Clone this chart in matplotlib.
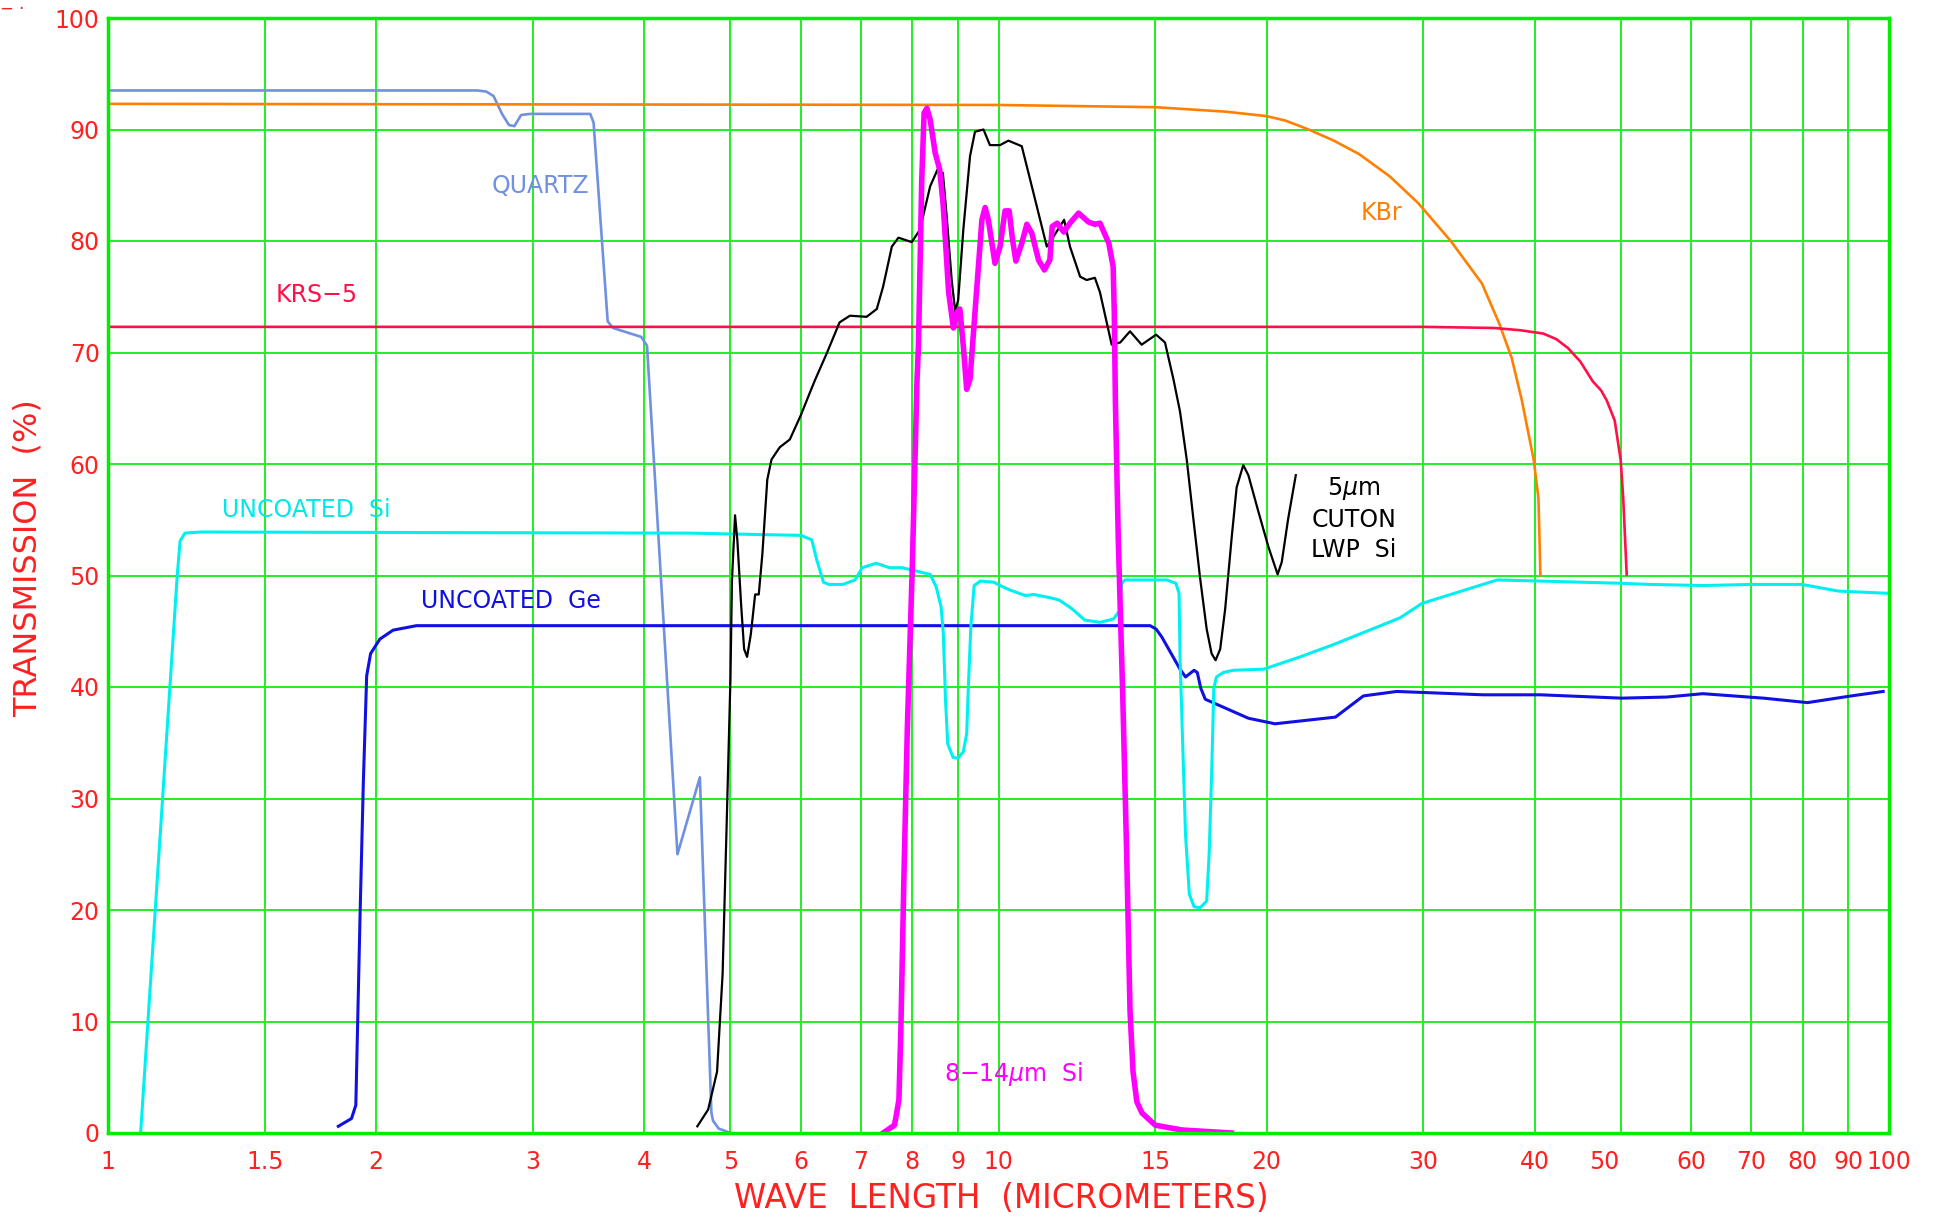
import numpy as np
from matplotlib import pyplot as plt
from matplotlib.ticker import NullLocator
from matplotlib.transforms import ScaledTranslation

# wavelength (micrometers) / transmission (%)
quartz_wl = [1.0, 2.60, 2.66, 2.71, 2.77, 2.82, 2.86, 2.91, 2.98, 3.48, 3.51, 3.64, 3.69, 3.97, 4.03,
             4.36, 4.62, 4.76, 4.78, 4.85, 5.0]
quartz_t = [93.5, 93.5, 93.4, 93.0, 91.4, 90.4, 90.3, 91.3, 91.4, 91.4, 90.6, 72.8, 72.2, 71.4, 70.6,
            25.0, 31.9, 1.8, 1.1, 0.4, 0.0]

kbr_wl = [1.0, 10.0, 15.0, 18.0, 20.0, 21.0, 22.3, 23.8, 25.4, 27.5, 29.6, 32.2, 34.9, 36.5, 37.7,
          38.7, 39.9, 40.4, 40.6]
kbr_t = [92.3, 92.2, 92.0, 91.6, 91.2, 90.8, 90.0, 89.0, 87.8, 85.8, 83.4, 80.0, 76.2, 72.6, 69.5,
         65.7, 60.4, 56.9, 50.0]

krs5_wl = [1.0, 30.0, 36.0, 38.5, 40.9, 42.3, 43.6, 45.0, 46.5, 47.5, 48.2, 49.2, 49.96, 50.3, 50.75]
krs5_t = [72.3, 72.3, 72.2, 72.0, 71.7, 71.2, 70.4, 69.2, 67.4, 66.6, 65.7, 63.9, 60.4, 56.9, 50.1]

si_wl = [1.088, 1.196, 1.205, 1.22, 1.27, 4.5, 6.0, 6.17, 6.25, 6.36, 6.45, 6.69, 6.90, 7.03, 7.29,
         7.54, 7.80, 8.03, 8.38, 8.51, 8.62, 8.67, 8.72, 8.77, 8.89, 9.0, 9.13, 9.21, 9.25, 9.31,
         9.39, 9.54, 9.88, 10.04, 10.30, 10.72, 10.95, 11.44, 11.7, 12.1, 12.5, 13.0, 13.46, 13.67,
         13.75, 13.87, 15.45, 15.82, 15.95, 15.99, 16.09, 16.22, 16.38, 16.58, 16.84, 17.13, 17.24,
         17.35, 17.45, 17.57, 17.88, 18.35, 19.85, 21.81, 23.77, 25.91, 28.24, 29.9, 36.3, 40.6,
         50.1, 53.9, 61.8, 70.2, 79.8, 87.8, 100.0]
si_t = [0.0, 50.0, 53.1, 53.8, 53.9, 53.8, 53.6, 53.2, 51.4, 49.4, 49.2, 49.2, 49.6, 50.7, 51.1,
        50.7, 50.7, 50.45, 50.1, 49.0, 47.2, 44.8, 38.8, 34.9, 33.7, 33.6, 34.2, 35.8, 40.0, 45.4,
        49.1, 49.5, 49.4, 49.1, 48.7, 48.2, 48.3, 48.0, 47.8, 47.0, 46.0, 45.8, 46.1, 46.8,
        49.3, 49.6, 49.6, 49.3, 48.4, 42.7, 35.6, 26.7, 21.4, 20.3, 20.2, 20.8, 25.0,
        32.1, 39.9, 40.9, 41.3, 41.5, 41.6, 42.7, 43.8, 45.0, 46.2, 47.5, 49.6, 49.5,
        49.3, 49.2, 49.1, 49.2, 49.2, 48.6, 48.4]

ge_wl = [1.814, 1.877, 1.898, 1.919, 1.935, 1.952, 1.972, 2.02, 2.09, 2.22, 14.8, 15.03, 15.25,
         15.99, 16.22, 16.58, 16.72, 16.87, 17.07, 19.08, 20.44, 23.9, 25.69, 28.0, 35.0, 40.6,
         50.1, 56.3, 61.8, 72.3, 81.0, 90.7, 98.5]
ge_t = [0.6, 1.3, 2.5, 19.6, 31.3, 41.0, 43.0, 44.3, 45.1, 45.5, 45.5, 45.2, 44.5,
        41.6, 40.9, 41.5, 41.3, 39.9, 38.9, 37.2, 36.7, 37.3, 39.2, 39.6, 39.3, 39.3,
        39.0, 39.1, 39.4, 39.0, 38.6, 39.2, 39.6]

lwp_wl = [4.59, 4.72, 4.83, 4.90, 4.95, 5.0, 5.02, 5.06, 5.09, 5.14, 5.18, 5.22, 5.27, 5.33, 5.38,
          5.43, 5.50, 5.56, 5.68, 5.83, 6.0, 6.14, 6.22, 6.42, 6.63, 6.81, 7.11, 7.30, 7.42, 7.59,
          7.72, 7.99, 8.16, 8.38, 8.54, 8.66, 8.74, 8.86, 8.94, 9.01, 9.13, 9.29, 9.41, 9.62, 9.78,
          10.04, 10.26, 10.62, 10.9, 11.33, 11.53, 11.85, 12.03, 12.35, 12.56, 12.83, 13.0, 13.4,
          13.7, 14.05, 14.48, 15.03, 15.38, 15.72, 15.99, 16.27, 16.55, 16.84, 17.13, 17.35, 17.53,
          17.74, 17.97, 18.27, 18.51, 18.83, 19.08, 19.57, 20.09, 20.58, 20.8, 21.15, 21.57]
lwp_t = [0.6, 2.1, 5.5, 14.3, 27.3, 40.7, 49.6, 55.4, 53.2, 47.4, 43.4, 42.7, 44.7, 48.3, 48.3,
         51.9, 58.6, 60.4, 61.5, 62.2, 64.4, 66.4, 67.5, 70.0, 72.7, 73.3, 73.2, 73.9, 75.9, 79.5,
         80.3, 79.9, 81.0, 84.9, 86.4, 86.1, 82.5, 76.5, 73.7, 74.7, 81.0, 87.6, 89.8, 90.0, 88.6,
         88.6, 89.0, 88.5, 84.9, 79.5, 80.4, 81.9, 79.5, 76.8, 76.5, 76.7, 75.4, 70.7,
         70.9, 71.9, 70.7, 71.6, 70.9, 67.6, 64.7, 60.4, 55.1, 49.8, 45.2, 43.0, 42.4,
         43.4, 47.0, 53.3, 57.9, 59.9, 59.0, 55.8, 52.6, 50.1, 51.2, 55.1, 59.0]

bp_wl = [7.42, 7.64, 7.67, 7.73, 7.77, 7.83, 7.90, 8.0, 8.10, 8.13, 8.20, 8.25, 8.31, 8.38, 8.49,
         8.59, 8.67, 8.79, 8.90, 8.98, 9.05, 9.13, 9.21, 9.29, 9.41, 9.58, 9.66, 9.74, 9.91, 10.04,
         10.17, 10.28, 10.37, 10.46, 10.62, 10.76, 10.9, 11.09, 11.26, 11.42, 11.49, 11.64, 11.84,
         12.03, 12.3, 12.62, 12.83, 13.0, 13.3, 13.45, 13.49, 13.53, 13.63, 13.79, 13.93, 14.05,
         14.16, 14.3, 14.49, 15.0, 16.07, 18.26]
bp_t = [0.0, 0.7, 1.4, 3.0, 9.5, 22.9, 36.3, 50.5, 67.5, 70.6, 85.5, 91.5, 91.9, 90.9, 87.9,
        86.4, 83.1, 75.4, 72.2, 73.6, 73.9, 70.6, 66.7, 67.6, 73.6, 81.9, 83.0, 81.9, 78.0, 79.5,
        82.7, 82.7, 80.1, 78.2, 79.8, 81.5, 80.7, 78.3, 77.4, 78.3, 81.3, 81.6, 80.8,
        81.6, 82.5, 81.7, 81.5, 81.6, 79.8, 77.7, 73.6, 65.5, 53.3, 39.1, 25.0, 11.0,
        5.5, 2.8, 1.8, 0.7, 0.27, 0.0]

x_ticks = [1, 1.5, 2, 3, 4, 5, 6, 7, 8, 9, 10, 15, 20, 30, 40, 50, 60, 70, 80, 90, 100]
x_tick_labels = ['1', '1.5', '2', '3', '4', '5', '6', '7', '8', '9', '10', '15', '20',
                 '30', '40', '50', '60', '70', '80', '90', '100']
y_ticks = list(range(0, 101, 10))

red = '#ff2020'
green = '#22ee22'

fig = plt.figure(figsize=(19.34, 12.18), dpi=100)
ax = fig.add_axes([108/1934, 85/1218, 1781/1934, 1115/1218])

ax.plot(quartz_wl, quartz_t, color='#7090e0', lw=1.9)
ax.plot(kbr_wl, kbr_t, color='#ff8000', lw=1.9)
ax.plot(krs5_wl, krs5_t, color='#ff1048', lw=1.9)
ax.plot(ge_wl, ge_t, color='#1010e0', lw=2.2)
ax.plot(si_wl, si_t, color='#00f0f0', lw=2.2)
ax.plot(lwp_wl, lwp_t, color='black', lw=1.6)
ax.plot(bp_wl, bp_t, color='#ff00ff', lw=4)

ax.set_xscale('log')
ax.set_xlim(1, 100)
ax.set_ylim(0, 100)
ax.set_xticks(x_ticks)
ax.set_xticklabels(x_tick_labels)
ax.xaxis.set_minor_locator(NullLocator())
ax.set_yticks(y_ticks)
ax.tick_params(length=0, labelsize=17, labelcolor=red)
ax.tick_params(axis='x', pad=12)
ax.tick_params(axis='y', pad=6)
ax.grid(True, color=green, lw=1.4)
ax.set_axisbelow(True)
for s in ax.spines.values():
    s.set_color('#00ee00')
    s.set_linewidth(2.5)

# the "50" label sits a little left of its grid line in the original
lbl50 = ax.get_xticklabels()[x_ticks.index(50)]
lbl50.set_transform(lbl50.get_transform() + ScaledTranslation(-0.17, 0, fig.dpi_scale_trans))

lab = dict(fontsize=17, ha='center', va='center')
ax.text(3.06, 84.9, 'QUARTZ', color='#7090e0', **lab)
ax.text(26.9, 82.5, 'KBr', color='#ff8000', **lab)
ax.text(1.717, 75.2, 'KRS\u22125', color='#ff1048', **lab)
ax.text(1.669, 55.9, 'UNCOATED  Si', color='#00e8e8', **lab)
ax.text(2.835, 47.7, 'UNCOATED  Ge', color='#1010e0', **lab)
ax.text(25.07, 55.1, '5$\\mu$m\nCUTON\nLWP  Si', color='black', linespacing=1.3, **lab)
ax.text(10.41, 5.3, '8\u221214$\\mu$m  Si', color='#ff00ff', **lab)

fig.text(1001/1934, 1 - 1198/1218, 'WAVE  LENGTH  (MICROMETERS)', color=red,
         fontsize=23.5, ha='center', va='center')
fig.text(28/1934, 1 - 558/1218, 'TRANSMISSION  (%)', color=red, fontsize=23,
         rotation=90, ha='center', va='center')
fig.text(0.0, 1 - 9/1218, '\u2212 \u00b7', color=red, fontsize=12, ha='left', va='center')

plt.savefig('out.png', dpi=100)
